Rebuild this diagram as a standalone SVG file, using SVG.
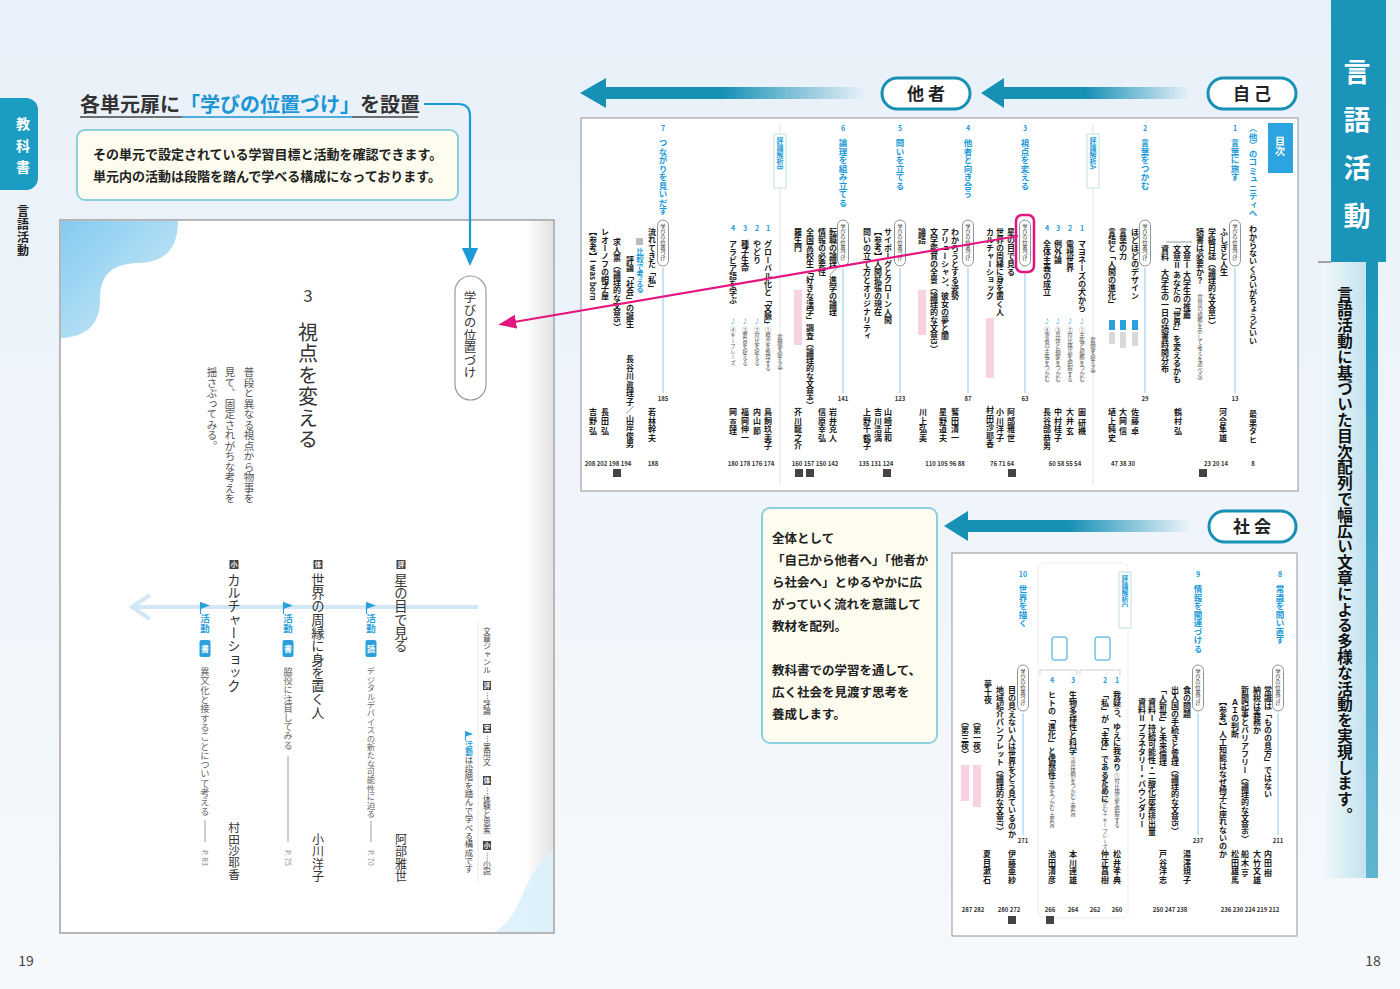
<svg xmlns="http://www.w3.org/2000/svg" width="1400" height="989" viewBox="0 0 1400 989">
<defs>
<style>
text{font-family:"Noto Sans CJK JP","Noto Sans",sans-serif}
.v{writing-mode:vertical-rl}
.tb{font-size:8px;font-weight:700;fill:#1a1a1a}
.th{font-size:8.5px;font-weight:700;fill:#1a9ad8}
.thn{font-size:7px;font-weight:700;fill:#1a9ad8;text-anchor:middle}
.ts{font-size:5.5px;fill:#555}
.tn{font-size:6px;fill:#333;font-weight:700;text-anchor:middle}
.au{font-size:8px;font-weight:700;fill:#1a1a1a;letter-spacing:0.5px}
.pill{fill:#fff;stroke:#777;stroke-width:0.8}
.pt{font-size:5.3px;fill:#333}
.bl{stroke:#8cc9ee;stroke-width:1}
.sep{stroke:#dcdcdc;stroke-width:0.8}
.tagp{fill:#f8d2e1}
.tagb{fill:#2aa0dc}
.tagg{fill:#d9d9d9}
.sq{fill:#444}
.tp{fill:#fff;stroke:#1690b5;stroke-width:3}
.tpt{font-size:17px;font-weight:700;fill:#222;text-anchor:middle;letter-spacing:4px}
.box{fill:#fdfcee;stroke:#8dd0dd;stroke-width:2}
.cb{font-size:13px;font-weight:700;fill:#222}
.cm{font-size:12.5px;font-weight:700;fill:#222}
.lp1{font-size:13.3px;fill:#333}
.lpa{fill:#666}
.ic{font-size:6.5px;fill:#fff;text-anchor:middle;font-weight:700}
.icb{font-size:8px;fill:#fff;text-anchor:middle;font-weight:700}
.fl{font-size:9.5px;fill:#2aa0dc;font-weight:700}
.lg{font-size:7.8px;fill:#444}
</style>
<linearGradient id="bg" x1="0" y1="0" x2="0" y2="1"><stop offset="0" stop-color="#e8f0f9"/><stop offset="1" stop-color="#f6f9fc"/></linearGradient>
<linearGradient id="ar" x1="0" y1="0" x2="1" y2="0"><stop offset="0" stop-color="#1690b5"/><stop offset="0.5" stop-color="#1690b5"/><stop offset="1" stop-color="#1690b5" stop-opacity="0"/></linearGradient>
<linearGradient id="cloud" x1="0" y1="0" x2="1" y2="1"><stop offset="0" stop-color="#84cbef"/><stop offset="1" stop-color="#d3ecf9"/></linearGradient>
<linearGradient id="gut" x1="0" y1="0" x2="1" y2="0"><stop offset="0" stop-color="#ffffff"/><stop offset="1" stop-color="#e2e2e2"/></linearGradient>
<linearGradient id="pan" x1="0" y1="0" x2="1" y2="0"><stop offset="0" stop-color="#f2f9fc"/><stop offset="1" stop-color="#c4e2ee"/></linearGradient>
<linearGradient id="strip" x1="0" y1="0" x2="0" y2="1"><stop offset="0" stop-color="#1a94b9"/><stop offset="1" stop-color="#5fb3cf"/></linearGradient>
<marker id="mb" markerWidth="18" markerHeight="16" refX="2" refY="8" orient="auto" markerUnits="userSpaceOnUse" viewBox="0 0 18 16"><path d="M0,0 L18,8 L0,16 Z" fill="#1a9ad8"/></marker>
<marker id="mp" markerWidth="18" markerHeight="14" refX="2" refY="7" orient="auto" markerUnits="userSpaceOnUse" viewBox="0 0 18 14"><path d="M0,0 L18,7 L0,14 Z" fill="#e4157f"/></marker>
<symbol id="flag" viewBox="0 0 11 12" overflow="visible"><path d="M0.5,0 V12" stroke="#2aa0dc" stroke-width="1.2"/><path d="M0.5,0 L10,3.5 L0.5,7 Z" fill="#2aa0dc"/></symbol>
</defs>

<g id="background">
<rect x="0" y="0" width="1400" height="989" fill="url(#bg)"/>
</g>

<g id="tab-left">
<path d="M0,98 H26 A12,12 0 0 1 38,110 V178 A12,12 0 0 1 26,190 H0 Z" fill="#1b9cc2"/>
<text class="v" x="23" y="117" style="font-size:14px;font-weight:700;fill:#fff;letter-spacing:7.5px">教科書</text>
<text class="v" x="23" y="205" style="font-size:12px;font-weight:700;fill:#222;letter-spacing:1px">言語活動</text>
</g>

<g id="tab-right">
<rect x="1331" y="0" width="55" height="262" fill="#1a94b9"/>
<rect x="1363" y="262" width="15" height="616" fill="url(#strip)"/>
<rect x="1322" y="262" width="44" height="616" fill="url(#pan)"/>
<line x1="1318" y1="262" x2="1331" y2="262" stroke="#555" stroke-width="1"/>
<text class="v" x="1357" y="58" style="font-size:27px;font-weight:700;fill:#fff;letter-spacing:21px">言語活動</text>
<text class="v" x="1345" y="286" style="font-size:15.5px;font-weight:700;fill:#111;letter-spacing:0.3px">言語活動に基づいた目次配列で幅広い文章による多様な活動を実現します。</text>
</g>

<g id="heading">
<text x="80" y="112" style="font-size:20px;font-weight:700;fill:#333">各単元扉に<tspan fill="#1a95d5">「学びの位置づけ」</tspan>を設置</text>
<line x1="80" y1="117" x2="182" y2="117" stroke="#444" stroke-width="1.3"/>
<line x1="182" y1="117" x2="352" y2="117" stroke="#1a95d5" stroke-width="1.3"/>
<line x1="352" y1="117" x2="418" y2="117" stroke="#444" stroke-width="1.3"/>
</g>

<g id="callout-top">
<rect class="box" x="77" y="130" width="381" height="70" rx="8"/>
<text class="cb" x="93" y="159">その単元で設定されている学習目標と活動を確認できます。</text>
<text class="cb" x="93" y="181">単元内の活動は段階を踏んで学べる構成になっております。</text>
</g>

<g id="page-left">
<rect x="60" y="220" width="494" height="713" fill="#fff" stroke="#8a8a8a" stroke-width="1.2"/>
<rect x="526" y="221" width="27" height="711" fill="url(#gut)"/>
<path d="M61,221 H178 C178,248 166,262 138,263 C110,264 100,276 100,300 C100,325 86,337 61,338 Z" fill="url(#cloud)"/>
<path d="M553,850 C540,860 528,880 520,900 C514,915 505,925 495,932 H553 Z" fill="#dcefFA" opacity="0.9"/>
<rect x="455" y="276" width="31" height="124" rx="15.5" fill="#fff" stroke="#999" stroke-width="1.2"/>
<text class="v" x="470" y="291" style="font-size:12.5px;fill:#333">学びの位置づけ</text>
<text x="308" y="302" style="font-size:17px;fill:#444;text-anchor:middle">3</text>
<text class="v" x="308" y="322" style="font-size:20px;fill:#333;letter-spacing:1.5px">視点を変える</text>
<text class="v" x="249" y="367" style="font-size:10.5px;fill:#555">普段と異なる視点から物事を</text>
<text class="v" x="230" y="367" style="font-size:10.5px;fill:#555">見て、固定されがちな考えを</text>
<text class="v" x="212" y="367" style="font-size:10.5px;fill:#555">揺さぶってみる。</text>
<line x1="136" y1="607" x2="478" y2="607" stroke="#d2e8f6" stroke-width="4"/>
<path d="M150,595 L132,607 L150,619" fill="none" stroke="#d2e8f6" stroke-width="4"/>
<line x1="478" y1="622" x2="478" y2="882" stroke="#e8e8e8" stroke-width="1"/>
<rect class="sq" x="396.5" y="560" width="9" height="9"/><text class="ic" x="401" y="567">評</text>
<text class="v lp1" x="401" y="573">星の目で見る</text>
<text class="v" x="401" y="833" style="font-size:12px;fill:#333;letter-spacing:0.5px">阿部雅世</text>
<use href="#flag" x="366" y="602" width="11" height="12"/>
<text class="v fl" x="371" y="614">活動</text>
<rect x="365.5" y="640" width="11" height="17" rx="2" fill="#2aa0dc"/><text class="icb" x="371" y="652">読</text>
<text class="v lpa" x="371" y="667" style="font-size:8.4px">デジタルデバイスの新たな可能性に迫る</text>
<line x1="371" y1="821" x2="371" y2="842" stroke="#888" stroke-width="0.8"/>
<text class="v" x="371" y="850" style="font-size:7.5px;fill:#888">P. 70</text>
<rect class="sq" x="313.5" y="560" width="9" height="9"/><text class="ic" x="318" y="567">体</text>
<text class="v lp1" x="318" y="573">世界の周縁に身を置く人</text>
<text class="v" x="318" y="833" style="font-size:12px;fill:#333;letter-spacing:0.5px">小川洋子</text>
<use href="#flag" x="283" y="602" width="11" height="12"/>
<text class="v fl" x="288" y="614">活動</text>
<rect x="282.5" y="640" width="11" height="17" rx="2" fill="#2aa0dc"/><text class="icb" x="288" y="652">書</text>
<text class="v lpa" x="288" y="667" style="font-size:9.2px">脇役に注目してみる</text>
<line x1="288" y1="756" x2="288" y2="842" stroke="#888" stroke-width="0.8"/>
<text class="v" x="288" y="850" style="font-size:7.5px;fill:#888">P. 75</text>
<rect class="sq" x="229.5" y="560" width="9" height="9"/><text class="ic" x="234" y="567">小</text>
<text class="v lp1" x="234" y="573">カルチャーショック</text>
<text class="v" x="234" y="822" style="font-size:11.6px;fill:#333">村田沙耶香</text>
<use href="#flag" x="200" y="602" width="11" height="12"/>
<text class="v fl" x="205" y="614">活動</text>
<rect x="199.5" y="640" width="11" height="17" rx="2" fill="#2aa0dc"/><text class="icb" x="205" y="652">書</text>
<text class="v lpa" x="205" y="667" style="font-size:9.3px">異文化と接することについて考える</text>
<line x1="205" y1="820" x2="205" y2="842" stroke="#888" stroke-width="0.8"/>
<text class="v" x="205" y="850" style="font-size:7.5px;fill:#888">P. 83</text>
<text class="v lg" x="487" y="627">文章ジャンル</text>
<rect class="sq" x="483" y="681" width="8" height="9"/><text class="ic" x="487" y="688">評</text>
<text class="v lg" x="487" y="692">…評論</text>
<rect class="sq" x="483" y="724" width="8" height="9"/><text class="ic" x="487" y="731">実</text>
<text class="v lg" x="487" y="735">…実用文</text>
<rect class="sq" x="483" y="776" width="8" height="9"/><text class="ic" x="487" y="783">体</text>
<text class="v lg" x="487" y="787">…体験と思索</text>
<rect class="sq" x="483" y="841" width="8" height="9"/><text class="ic" x="487" y="848">小</text>
<text class="v lg" x="487" y="852">…小説</text>
<use href="#flag" x="465" y="731" width="9" height="10"/>
<text class="v" x="469" y="741" style="font-size:7.5px;fill:#2aa0dc;font-weight:700">活動</text>
<text class="v" x="469" y="756" style="font-size:8.4px;fill:#444">は段階を踏んで学べる構成です</text>
</g>

<g id="arrows">
<path d="M981,93 L1004,78 V87 H1190 V99 H1004 V108 Z" fill="url(#ar)"/>
<path d="M580,93 L606,78 V87 H865 V99 H606 V108 Z" fill="url(#ar)"/>
<path d="M944,526 L968,511 V520 H1192 V532 H968 V541 Z" fill="url(#ar)"/>
<rect class="tp" x="1208" y="78" width="88" height="31" rx="15.5"/>
<text class="tpt" x="1254" y="100">自己</text>
<rect class="tp" x="882" y="78" width="88" height="31" rx="15.5"/>
<text class="tpt" x="928" y="100">他者</text>
<rect class="tp" x="1209" y="511" width="87" height="31" rx="15.5"/>
<text class="tpt" x="1254" y="533">社会</text>
</g>

<g id="toc-top">
<rect x="581" y="118" width="717" height="373" fill="#fff" stroke="#a5a5a5" stroke-width="1.2"/>
<line class="sep" x1="1093" y1="124" x2="1093" y2="485"/>
<line class="sep" x1="780" y1="124" x2="780" y2="485"/>
<rect x="1268" y="123" width="25" height="50" fill="#2ba4e0"/>
<text class="v" x="1280" y="136" style="font-size:10px;fill:#fff;font-weight:700">目次</text>
<text class="v th" x="1253" y="124">〈他〉のコミュニティへ</text>
<text class="thn" x="1235" y="131">1</text><text class="v th" x="1235" y="139">言葉に旅す</text>
<text class="thn" x="1145" y="131">2</text><text class="v th" x="1145" y="139">言葉をつかむ</text>
<text class="thn" x="1025" y="131">3</text><text class="v th" x="1025" y="139">視点を変える</text>
<text class="thn" x="968" y="131">4</text><text class="v th" x="968" y="139">他者と向き合う</text>
<text class="thn" x="900" y="131">5</text><text class="v th" x="900" y="139">問いを立てる</text>
<text class="thn" x="843" y="131">6</text><text class="v th" x="843" y="139">論理を組み立てる</text>
<text class="thn" x="663" y="131">7</text><text class="v th" x="663" y="139">つながりを見いだす</text>
<rect x="1087" y="134" width="12" height="54" fill="#fff" stroke="#b5d8e6" stroke-width="0.8"/>
<text class="v" x="1093" y="137" style="font-size:7px;fill:#1a9ad8;font-weight:700">評論解析A</text>
<rect x="774" y="134" width="12" height="54" fill="#fff" stroke="#b5d8e6" stroke-width="0.8"/>
<text class="v" x="780" y="137" style="font-size:7px;fill:#1a9ad8;font-weight:700">評論解析B</text>
<g>
<rect class="pill" x="1229.5" y="220" width="11" height="46" rx="5.5"/><text class="v pt" x="1235" y="224">学びの位置づけ</text><line class="bl" x1="1235" y1="268" x2="1235" y2="393"/><text class="tn" x="1235" y="401">13</text>
<rect class="pill" x="1139.5" y="220" width="11" height="46" rx="5.5"/><text class="v pt" x="1145" y="224">学びの位置づけ</text><line class="bl" x1="1145" y1="268" x2="1145" y2="393"/><text class="tn" x="1145" y="401">29</text>
<rect class="pill" x="1019.5" y="220" width="11" height="46" rx="5.5"/><text class="v pt" x="1025" y="224">学びの位置づけ</text><line class="bl" x1="1025" y1="273" x2="1025" y2="393"/><text class="tn" x="1025" y="401">63</text>
<rect class="pill" x="962.5" y="220" width="11" height="46" rx="5.5"/><text class="v pt" x="968" y="224">学びの位置づけ</text><line class="bl" x1="968" y1="268" x2="968" y2="393"/><text class="tn" x="968" y="401">87</text>
<rect class="pill" x="894.5" y="220" width="11" height="46" rx="5.5"/><text class="v pt" x="900" y="224">学びの位置づけ</text><line class="bl" x1="900" y1="268" x2="900" y2="393"/><text class="tn" x="900" y="401">123</text>
<rect class="pill" x="837.5" y="220" width="11" height="46" rx="5.5"/><text class="v pt" x="843" y="224">学びの位置づけ</text><line class="bl" x1="843" y1="268" x2="843" y2="393"/><text class="tn" x="843" y="401">141</text>
<rect class="pill" x="657.5" y="220" width="11" height="46" rx="5.5"/><text class="v pt" x="663" y="224">学びの位置づけ</text><line class="bl" x1="663" y1="268" x2="663" y2="393"/><text class="tn" x="663" y="401">185</text>
</g>
<rect x="1016" y="215" width="18" height="57" rx="6" fill="none" stroke="#e4157f" stroke-width="2.5"/>
<text class="v tb" x="1253" y="225">わからないくらいがちょうどいい</text>
<text class="v au" x="1253" y="410">最果タヒ</text>
<text class="tn" x="1253" y="466">8</text>
<text class="v tb" x="1224" y="228">ふしぎと人生</text>
<text class="v tb" x="1212" y="228">学級日誌（論理的な文章1）</text>
<text class="v tb" x="1200" y="228">読書は必要か？</text>
<text class="v ts" x="1200" y="290">（意見の根拠を示して考えを述べる）</text>
<line x1="1166" y1="242" x2="1192" y2="242" stroke="#555" stroke-width="0.6"/>
<text class="v tb" x="1187" y="245">文章Ⅰ 大学生の推薦</text>
<text class="v tb" x="1177" y="245">文章Ⅱ あなたの「世界」を変えるかも</text>
<text class="v tb" x="1165" y="245">資料　大学生の一日の読書時間分布</text>
<text class="v au" x="1223" y="408">河合隼雄</text>
<text class="v au" x="1178" y="408">鶴村 弘</text>
<text class="tn" x="1216" y="466">23 20 14</text>
<rect class="sq" x="1199" y="469" width="8" height="8"/>
<text class="v tb" x="1135" y="228">ほどほどのデザイン</text>
<text class="v tb" x="1123" y="228">言葉の力</text>
<text class="v tb" x="1112" y="228">言語と「人間の進化」</text>
<rect class="tagb" x="1132" y="320" width="6" height="10"/><rect class="tagg" x="1132" y="332" width="6" height="14"/>
<rect class="tagb" x="1120" y="320" width="6" height="10"/><rect class="tagg" x="1120" y="332" width="6" height="16"/>
<rect class="tagb" x="1109" y="320" width="6" height="10"/><rect class="tagg" x="1109" y="332" width="6" height="12"/>
<text class="v au" x="1135" y="408">佐藤 卓</text>
<text class="v au" x="1123" y="408">大岡 信</text>
<text class="v au" x="1112" y="408">埴上純史</text>
<text class="tn" x="1123" y="466">47 38 30</text>
<text class="thn" x="1082" y="231">1</text><text class="v tb" x="1082" y="240">マヨネーズの犬から</text>
<text class="thn" x="1070" y="231">2</text><text class="v tb" x="1070" y="240">電視世界</text>
<text class="thn" x="1058" y="231">3</text><text class="v tb" x="1058" y="240">例外論</text>
<text class="thn" x="1047" y="231">4</text><text class="v tb" x="1047" y="240">全体主義の成立</text>
<text class="v ts" x="1093" y="333">（着眼を捉える）</text>
<text class="v ts" x="1082" y="318" style="fill:#1a9ad8">♪</text><text class="v ts" x="1082" y="327">①主張と根拠をつかむ</text>
<text class="v ts" x="1070" y="318" style="fill:#1a9ad8">♪</text><text class="v ts" x="1070" y="327">②対比構造を把握する</text>
<text class="v ts" x="1058" y="318" style="fill:#1a9ad8">♪</text><text class="v ts" x="1058" y="327">③具体と抽象をつかむ</text>
<text class="v ts" x="1047" y="318" style="fill:#1a9ad8">♪</text><text class="v ts" x="1047" y="327">④筆者の主張をつかむ</text>
<text class="v au" x="1082" y="408">園 研機</text>
<text class="v au" x="1070" y="408">大井 玄</text>
<text class="v au" x="1058" y="408">中村桂子</text>
<text class="v au" x="1047" y="408">長谷部恭男</text>
<text class="tn" x="1065" y="466">60 58 55 54</text>
<text class="v tb" x="1011" y="228">星の目で見る</text>
<text class="v tb" x="1000" y="228">世界の周縁に身を置く人</text>
<text class="v tb" x="990" y="228">カルチャーショック</text>
<rect class="tagp" x="986" y="318" width="8" height="60"/>
<text class="v au" x="1011" y="408">阿部雅世</text>
<text class="v au" x="1000" y="408">小川洋子</text>
<text class="v au" x="990" y="406">村田沙耶香</text>
<text class="tn" x="1002" y="466">76 71 64</text>
<rect class="sq" x="1008" y="469" width="8" height="8"/>
<text class="v tb" x="955" y="228">わかろうとする姿勢</text>
<text class="v tb" x="945" y="228">アリューシャン、彼女の夢と闇</text>
<text class="v tb" x="934" y="228">文学鑑賞の全景（論理的な文章3）</text>
<text class="v tb" x="922" y="228">論語</text>
<rect class="tagp" x="918" y="290" width="8" height="45"/>
<text class="v au" x="955" y="408">鷲田清一</text>
<text class="v au" x="943" y="408">星野道夫</text>
<text class="v au" x="923" y="408">川上弘美</text>
<text class="tn" x="945" y="466">110 105 96 88</text>
<text class="v tb" x="888" y="228">サイボーグとクローン人間</text>
<text class="v tb" x="878" y="228">【参考】人間拡張の現在</text>
<text class="v tb" x="867" y="228">問いの立て方とオリジナリティ</text>
<text class="v au" x="888" y="408">山崎正和</text>
<text class="v au" x="878" y="408">吉川浩満</text>
<text class="v au" x="867" y="408">上野千鶴子</text>
<text class="tn" x="876" y="466">135 131 124</text>
<rect class="sq" x="883" y="469" width="8" height="8"/>
<text class="v tb" x="833" y="228">転職の論理／進学の論理</text>
<text class="v tb" x="822" y="228">情報の必要性</text>
<text class="v tb" x="810" y="228">全国高校生「好きな漢字」調査（論理的な文章4）</text>
<text class="v tb" x="798" y="228">羅生門</text>
<rect class="tagp" x="794" y="290" width="8" height="55"/>
<text class="v ts" x="780" y="330">（着眼を捉える）</text>
<text class="v au" x="833" y="408">岩井克人</text>
<text class="v au" x="822" y="408">信原幸弘</text>
<text class="v au" x="798" y="408">芥川龍之介</text>
<text class="tn" x="815" y="466">160 157 150 142</text>
<rect class="sq" x="795" y="469" width="8" height="8"/><rect class="sq" x="806" y="469" width="8" height="8"/>
<text class="thn" x="768" y="231">1</text><text class="v tb" x="768" y="240">グローバル化と「文脈」</text>
<text class="thn" x="757" y="231">2</text><text class="v tb" x="757" y="240">やどり</text>
<text class="thn" x="745" y="231">3</text><text class="v tb" x="745" y="240">種子生命</text>
<text class="thn" x="733" y="231">4</text><text class="v tb" x="733" y="240">アラビア語を学ぶ</text>
<text class="v ts" x="768" y="318" style="fill:#1a9ad8">♪</text><text class="v ts" x="768" y="327">①概念を整理する</text>
<text class="v ts" x="757" y="318" style="fill:#1a9ad8">♪</text><text class="v ts" x="757" y="327">②対比を捉える</text>
<text class="v ts" x="745" y="318" style="fill:#1a9ad8">♪</text><text class="v ts" x="745" y="327">③要旨を捉える</text>
<text class="v ts" x="733" y="318" style="fill:#1a9ad8">♪</text><text class="v ts" x="733" y="327">④キーフレーズ</text>
<text class="v au" x="768" y="408">鳥飼玖美子</text>
<text class="v au" x="757" y="408">内山 節</text>
<text class="v au" x="745" y="408">福岡伸一</text>
<text class="v au" x="733" y="408">岡 真理</text>
<text class="tn" x="751" y="466">180 178 176 174</text>
<text class="v tb" x="652" y="228">流れてきた「私」</text>
<rect x="636" y="238" width="7" height="7" fill="#bbb"/>
<text class="v" x="640" y="248" style="font-size:7.5px;fill:#1a9ad8;font-weight:700">比較で考える</text>
<text class="v tb" x="630" y="256">評論「社会」の誕生</text>
<text class="v tb" x="617" y="238">求人票（論理的な文章5）</text>
<text class="v tb" x="605" y="228">レオーノフの帽子屋</text>
<text class="v tb" x="593" y="228">【参考】I was born</text>
<text class="v au" x="652" y="408">若林幹夫</text>
<text class="v au" x="630" y="355">長谷川眞理子／山岸俊男</text>
<text class="v au" x="605" y="408">長田 弘</text>
<text class="v au" x="593" y="408">吉野 弘</text>
<text class="tn" x="653" y="466">188</text>
<text class="tn" x="608" y="466">208 202 198 194</text>
<rect class="sq" x="613" y="469" width="8" height="8"/>
</g>

<g id="callout-mid">
<rect class="box" x="762" y="508" width="175" height="235" rx="8"/>
<text class="cm" x="772" y="543">全体として</text>
<text class="cm" x="772" y="565">「自己から他者へ」「他者か</text>
<text class="cm" x="772" y="587">ら社会へ」とゆるやかに広</text>
<text class="cm" x="772" y="609">がっていく流れを意識して</text>
<text class="cm" x="772" y="631">教材を配列。</text>
<text class="cm" x="772" y="675">教科書での学習を通して、</text>
<text class="cm" x="772" y="697">広く社会を見渡す思考を</text>
<text class="cm" x="772" y="719">養成します。</text>
</g>

<g id="toc-bottom">
<rect x="952" y="553" width="345" height="383" fill="#fff" stroke="#a5a5a5" stroke-width="1.2"/>
<rect x="1038" y="563" width="90" height="355" rx="6" fill="#fff" stroke="#ececec" stroke-width="1"/>
<text class="thn" x="1280" y="577">8</text><text class="v th" x="1280" y="585">常識を問い直す</text>
<text class="thn" x="1198" y="577">9</text><text class="v th" x="1198" y="585">情報を関連づける</text>
<text class="thn" x="1023" y="577">10</text><text class="v th" x="1023" y="585">世界を描く</text>
<rect x="1119" y="572" width="12" height="56" fill="#fff" stroke="#b5d8e6" stroke-width="0.8"/>
<text class="v" x="1125" y="575" style="font-size:7px;fill:#1a9ad8;font-weight:700">評論解析C</text>
<rect x="1095" y="637" width="15" height="23" rx="2" fill="#fff" stroke="#2aa0dc" stroke-width="1"/>
<rect x="1052" y="637" width="15" height="23" rx="2" fill="#fff" stroke="#2aa0dc" stroke-width="1"/>
<path d="M1080,675 V670 H1120 V675 M1040,675 V670 H1077 V675" fill="none" stroke="#bbb" stroke-width="0.7"/>
<rect class="pill" x="1272.5" y="665" width="11" height="46" rx="5.5"/><text class="v pt" x="1278" y="669">学びの位置づけ</text><line class="bl" x1="1278" y1="713" x2="1278" y2="835"/><text class="tn" x="1278" y="843">211</text>
<rect class="pill" x="1192.5" y="665" width="11" height="46" rx="5.5"/><text class="v pt" x="1198" y="669">学びの位置づけ</text><line class="bl" x1="1198" y1="713" x2="1198" y2="835"/><text class="tn" x="1198" y="843">237</text>
<rect class="pill" x="1017.5" y="665" width="11" height="46" rx="5.5"/><text class="v pt" x="1023" y="669">学びの位置づけ</text><line class="bl" x1="1023" y1="713" x2="1023" y2="835"/><text class="tn" x="1023" y="843">271</text>
<text class="v tb" x="1268" y="686">常識は「ものの見方」ではない</text>
<text class="v tb" x="1257" y="686">納税は義務か</text>
<text class="v tb" x="1245" y="686">新聞記事とバリアフリー（論理的な文章6）</text>
<text class="v tb" x="1235" y="698">ＡＩの判断</text>
<text class="v tb" x="1223" y="698">【参考】人工知能はなぜ椅子に座れないのか</text>
<text class="v au" x="1268" y="850">内田 樹</text>
<text class="v au" x="1257" y="850">大竹文雄</text>
<text class="v au" x="1245" y="850">船木 亨</text>
<text class="v au" x="1235" y="850">松田雄馬</text>
<text class="tn" x="1250" y="912">236 230 224 219 212</text>
<text class="v tb" x="1187" y="686">食の問題</text>
<text class="v tb" x="1175" y="686">出入国の手続きと管理（論理的な文章5）</text>
<text class="v tb" x="1163" y="686">「人新世」と未来倫理</text>
<text class="v tb" x="1152" y="698">資料Ⅰ 持続可能性・二酸化炭素排出量</text>
<text class="v tb" x="1142" y="698">資料Ⅱ プラネタリー・バウンダリー</text>
<text class="v au" x="1187" y="850">湯澤規子</text>
<text class="v au" x="1163" y="850">戸谷洋志</text>
<text class="tn" x="1170" y="912">250 247 238</text>
<text class="thn" x="1117" y="683">1</text><text class="v tb" x="1117" y="691">我疑う、ゆえに我あり</text>
<text class="thn" x="1105" y="683">2</text><text class="v tb" x="1105" y="691">「私」が「主体」であるために</text>
<text class="thn" x="1073" y="683">3</text><text class="v tb" x="1073" y="691">生物多様性と科学</text>
<text class="thn" x="1052" y="683">4</text><text class="v tb" x="1052" y="691">ヒトの「進化」と偶然性</text>
<text class="v ts" x="1117" y="765" style="fill:#1a9ad8">♪</text><text class="v ts" x="1117" y="773">①対比構造を把握する</text>
<text class="v ts" x="1105" y="765" style="fill:#1a9ad8">♪</text><text class="v ts" x="1105" y="773">②主張をつかむ＋キーフレーズ</text>
<text class="v ts" x="1073" y="748" style="fill:#1a9ad8">♪</text><text class="v ts" x="1073" y="756">③具体例をつかむ＋要旨</text>
<text class="v ts" x="1052" y="748" style="fill:#1a9ad8">♪</text><text class="v ts" x="1052" y="756">④筆者の主張をつかむ＋要旨</text>
<text class="v au" x="1117" y="850">松井孝典</text>
<text class="v au" x="1105" y="850">仲正昌樹</text>
<text class="v au" x="1073" y="850">本川達雄</text>
<text class="v au" x="1052" y="850">池田清彦</text>
<text class="tn" x="1117" y="912">260</text>
<text class="tn" x="1095" y="912">262</text>
<text class="tn" x="1073" y="912">264</text>
<text class="tn" x="1050" y="912">266</text>
<rect class="sq" x="1046" y="916" width="8" height="8"/>
<text class="v tb" x="1012" y="686">目の見えない人は世界をどう見ているのか</text>
<text class="v tb" x="1000" y="686">地域紹介パンフレット（論理的な文章7）</text>
<text class="v tb" x="988" y="680">夢十夜</text>
<text class="v tb" x="977" y="718">（第一夜）</text>
<text class="v tb" x="965" y="718">（第三夜）</text>
<rect class="tagp" x="973" y="765" width="8" height="42"/>
<rect class="tagp" x="961" y="765" width="8" height="36"/>
<text class="v au" x="1012" y="850">伊藤亜紗</text>
<text class="v au" x="987" y="850">夏目漱石</text>
<text class="tn" x="1009" y="912">280 272</text>
<text class="tn" x="973" y="912">287 282</text>
<rect class="sq" x="1008" y="916" width="8" height="8"/>
</g>

<g id="connectors">
<path d="M424,104 H458 Q470,104 470,116 V250" fill="none" stroke="#1a9ad8" stroke-width="2.2" marker-end="url(#mb)"/>
<line x1="1018" y1="236" x2="514" y2="322" stroke="#e4157f" stroke-width="2.2" marker-end="url(#mp)"/>
</g>

<g id="page-numbers">
<text x="26" y="966" style="font-size:14px;fill:#444;text-anchor:middle">19</text>
<text x="1373" y="966" style="font-size:14px;fill:#444;text-anchor:middle">18</text>
</g>
</svg>
